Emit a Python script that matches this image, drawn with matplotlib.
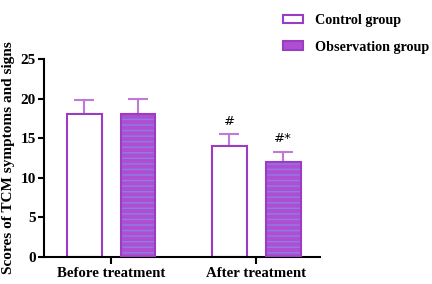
import numpy as np
import matplotlib.pyplot as plt
from matplotlib.patches import Patch

plt.rcParams['font.family'] = ['Liberation Serif', 'DejaVu Serif']
plt.rcParams['font.weight'] = 'bold'
plt.rcParams['hatch.linewidth'] = 1.0

groups = ["Before treatment", "After treatment"]
control = [18, 14]
control_err = [1.8, 1.5]
observation = [18, 12]
observation_err = [1.9, 1.3]
control_marks = ["", "#"]
observation_marks = ["", "#*"]

edge = "#9a3cc4"
fill = "#b04ed2"
hatch_col = "#8a7ee6"
err_col = "#c07ad6"

fig = plt.figure(figsize=(4.32, 2.84), dpi=100)
ax = fig.add_axes([0.102, 0.095, 0.639, 0.697])

x = np.arange(len(groups))
w = 0.24
off = 0.186

ax.bar(x - off, control, w, color="white", edgecolor=edge, linewidth=1.5, zorder=2)
ax.errorbar(x - off, control, yerr=[np.zeros(2), control_err], fmt="none",
            ecolor=err_col, elinewidth=1.5, capsize=7, capthick=1.5, zorder=1)

ax.bar(x + off, observation, w, color=fill, edgecolor="none", zorder=2)
ax.bar(x + off, observation, w, color="none", edgecolor=hatch_col, hatch="---",
       linewidth=0, zorder=3)
ax.bar(x + off, observation, w, color="none", edgecolor=edge, linewidth=1.5, zorder=4)
ax.errorbar(x + off, observation, yerr=[np.zeros(2), observation_err], fmt="none",
            ecolor=err_col, elinewidth=1.5, capsize=7, capthick=1.5, zorder=1)

for i in range(len(groups)):
    if control_marks[i]:
        ax.text(x[i] - off, control[i] + control_err[i] + 0.8, control_marks[i],
                ha="center", va="bottom", fontsize=9.5, fontweight="normal",
                family="DejaVu Sans")
    if observation_marks[i]:
        ax.text(x[i] + off, observation[i] + observation_err[i] + 0.8, observation_marks[i],
                ha="center", va="bottom", fontsize=9.5, fontweight="normal",
                family="DejaVu Sans")

ax.set_xlim(-0.462, 1.441)
ax.set_ylim(0, 25)
ax.set_yticks([0, 5, 10, 15, 20, 25])
ax.set_xticks(x)
ax.set_xticklabels(groups, fontsize=10.7, fontweight="bold")
ax.tick_params(axis="y", labelsize=11, width=1.5, length=4, pad=2)
ax.tick_params(axis="x", width=1.5, length=5, pad=2)
for lab in ax.get_yticklabels():
    lab.set_fontweight("bold")
ax.set_ylabel("Scores of TCM symptoms and signs", fontsize=11, fontweight="bold",
              labelpad=4)
ax.spines["top"].set_visible(False)
ax.spines["right"].set_visible(False)
ax.spines["left"].set_linewidth(1.5)
ax.spines["bottom"].set_linewidth(1.5)

handles = [Patch(facecolor="white", edgecolor=edge, linewidth=1.5),
           Patch(facecolor=fill, edgecolor=edge, linewidth=1.5)]
fig.legend(handles, ["Control group", "Observation group"], loc="upper left",
           bbox_to_anchor=(0.622, 1.0), frameon=False, fontsize=10.2,
           handlelength=1.45, handleheight=0.55, labelspacing=0.95, handletextpad=0.8,
           borderaxespad=0.6)

fig.savefig("out.png", dpi=100)
